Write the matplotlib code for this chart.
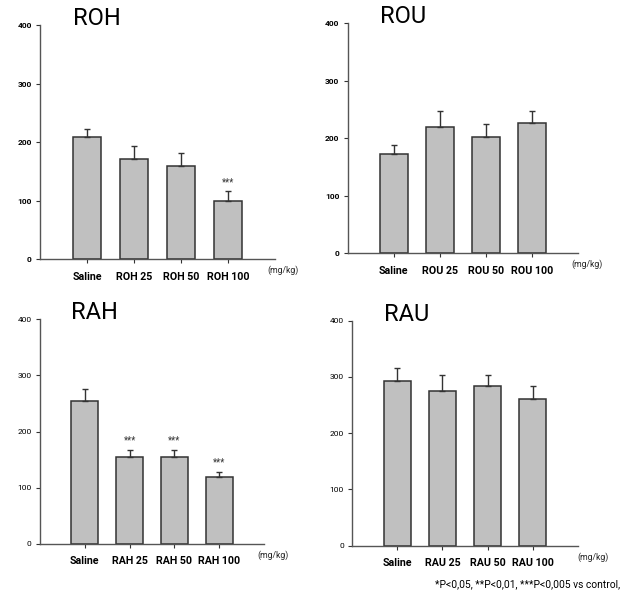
import matplotlib
matplotlib.use("Agg")
import matplotlib.pyplot as plt
import numpy as np

plt.rcParams["font.family"] = ["Roboto", "DejaVu Sans"]

# ── data ────────────────────────────────────────────────────
roh_labels = ["Saline", "ROH 25", "ROH 50", "ROH 100"]
roh_mean = [208, 171, 160, 99]
roh_err = [15, 22, 21, 17]
roh_sig = ["", "", "", "***"]

rou_labels = ["Saline", "ROU 25", "ROU 50", "ROU 100"]
rou_mean = [173, 220, 202, 227]
rou_err = [16, 28, 23, 20]
rou_sig = ["", "", "", ""]

rah_labels = ["Saline", "RAH 25", "RAH 50", "RAH 100"]
rah_mean = [254, 155, 155, 120]
rah_err = [22, 13, 13, 9]
rah_sig = ["", "***", "***", "***"]

rau_labels = ["Saline", "RAU 25", "RAU 50", "RAU 100"]
rau_mean = [293, 275, 284, 260]
rau_err = [23, 29, 20, 24]
rau_sig = ["", "", "", ""]

yticks = [0, 100, 200, 300, 400]

BAR = "#c0c0c0"
EDGE = "#333333"

fig = plt.figure(figsize=(6.4, 5.97), dpi=100)
fig.patch.set_facecolor("white")


def panel(rect, title, labels, mean, err, sig, bold_y, unit_x):
    ax = fig.add_axes(rect)
    x = np.arange(len(labels))
    ax.bar(x, mean, width=0.6, color=BAR, edgecolor=EDGE, linewidth=1.1, zorder=2)
    ax.errorbar(x, mean, yerr=[np.zeros(len(err)), err], fmt="none",
                ecolor=EDGE, elinewidth=1, capsize=2.5, capthick=1, zorder=3)
    for xi, m, e, s in zip(x, mean, err, sig):
        if s:
            ax.annotate(s, xy=(xi, m + e), xytext=(0, 3), textcoords="offset points",
                        ha="center", va="bottom", fontsize=7, color=EDGE)
    ax.set_xlim(-1, 4)
    ax.set_ylim(0, 400)
    ax.set_yticks(yticks)
    ax.set_yticklabels([str(t) for t in yticks], fontsize=6,
                       fontweight="bold" if bold_y else "normal")
    ax.set_xticks(x)
    ax.set_xticklabels(labels, fontsize=7.7, fontweight="bold")
    ax.tick_params(axis="y", length=3, width=0.8, pad=3, colors=EDGE)
    ax.tick_params(axis="x", length=3, width=0.8, pad=6, colors=EDGE)
    for t in ax.get_xticklabels() + ax.get_yticklabels():
        t.set_color("black")
    for side in ["top", "right"]:
        ax.spines[side].set_visible(False)
    for side in ["left", "bottom"]:
        ax.spines[side].set_color("#555555")
        ax.spines[side].set_linewidth(1)
    ax.annotate("(mg/kg)", xy=(unit_x, 0), xycoords="axes fraction",
                xytext=(0, -8), textcoords="offset points",
                ha="left", va="center", fontsize=6.2, color="#222222")
    ax.text(0.14, 1.0, title, transform=ax.transAxes, fontsize=17,
            ha="left", va="baseline", color="black")
    return ax


panel([0.0625, 0.5657, 0.367, 0.3925], "ROH", roh_labels, roh_mean, roh_err, roh_sig, True, 0.966)
panel([0.5433, 0.5757, 0.3598, 0.3853], "ROU", rou_labels, rou_mean, rou_err, rou_sig, True, 0.973)
panel([0.0625, 0.0888, 0.350, 0.3764], "RAH", rah_labels, rah_mean, rah_err, rah_sig, False, 0.969)
panel([0.5505, 0.0859, 0.3522, 0.3769], "RAU", rau_labels, rau_mean, rau_err, rau_sig, False, 1.0)

fig.text(0.68, 0.022, "*P<0,05, **P<0,01, ***P<0,005 vs control,",
         fontsize=7.4, ha="left", va="center", color="black")

fig.savefig("out.png", dpi=100, facecolor="white")
